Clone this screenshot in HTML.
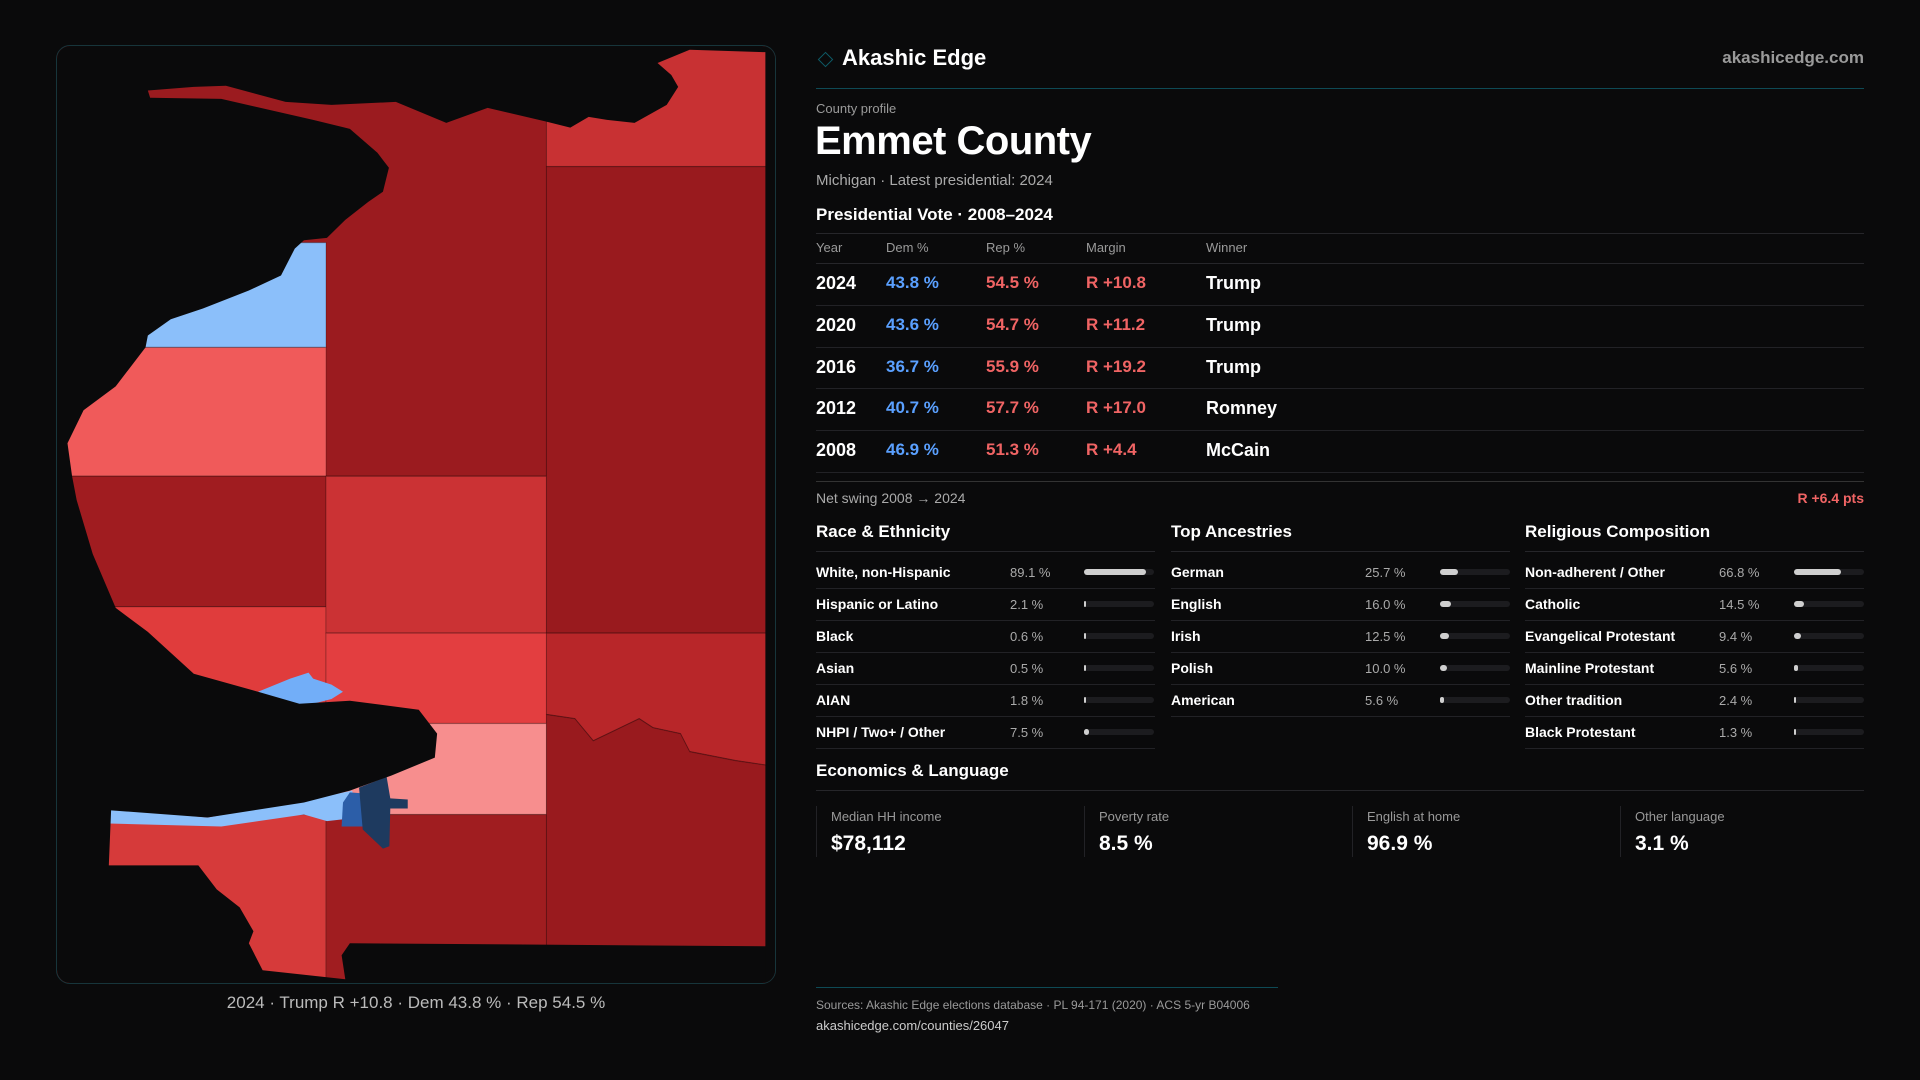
<!DOCTYPE html>
<html><head><meta charset="utf-8">
<style>
*{margin:0;padding:0;box-sizing:border-box}
body{width:1920px;height:1080px;background:#0a0a0b;font-family:"Liberation Sans",sans-serif;color:#fff;position:relative;overflow:hidden}
.a{position:absolute;white-space:nowrap}
.g{color:#9a9a9a}
.line{position:absolute;height:1px;background:#26262a}
</style></head><body>
<div class="a" style="left:56px;top:45px;width:720px;height:939px;border:1px solid #17353b;border-radius:14px;overflow:hidden;background:#0a0a0b">
<svg width="720" height="939" viewBox="0 0 1568 1568" preserveAspectRatio="none" style="position:absolute;left:-1px;top:-1px">
<g stroke="rgba(0,0,0,0.25)" stroke-width="2">
<rect x="0" y="0" width="1068" height="720" fill="#9b1b1f"/>
<rect x="0" y="330" width="588" height="175" fill="#8bbffa"/>
<rect x="0" y="505" width="588" height="215" fill="#f05a5a"/>
<rect x="0" y="720" width="588" height="218" fill="#a01c20"/>
<rect x="0" y="938" width="588" height="347" fill="#e03c3c"/>
<rect x="0" y="1285" width="588" height="283" fill="#d63a3a"/>
<rect x="588" y="720" width="480" height="262" fill="#cb3234"/>
<rect x="588" y="982" width="480" height="151" fill="#e33e40"/>
<rect x="588" y="1133" width="480" height="152" fill="#f78e8e"/>
<rect x="588" y="1285" width="480" height="283" fill="#a01d20"/>
<rect x="1068" y="0" width="500" height="203" fill="#c83133"/>
<rect x="1068" y="203" width="500" height="779" fill="#991a1e"/>
<polygon points="1068,982 1568,982 1568,1205 1480,1195 1380,1180 1360,1150 1300,1140 1270,1125 1170,1162 1130,1125 1068,1118" fill="#b82629"/>
<polygon points="1068,1118 1130,1125 1170,1162 1270,1125 1300,1140 1360,1150 1380,1180 1480,1195 1568,1205 1568,1568 1068,1568" fill="#991a1e"/>
</g>
<polygon points="440,1080 510,1058 550,1048 560,1058 600,1068 625,1080 600,1092 560,1100 520,1105" fill="#72aef8"/>
<polygon points="115,1275 330,1290 540,1262 645,1245 660,1290 590,1296 540,1285 360,1305 115,1300" fill="#8bbffa"/>
<polygon points="640,1248 675,1250 672,1305 622,1305 625,1265" fill="#2c5ea8"/>
<polygon points="660,1240 720,1222 728,1258 766,1260 766,1275 728,1275 726,1338 712,1342 668,1310" fill="#1e3a5f"/>
<path fill="#0a0a0b" d="M0,0 L1568,0 L1568,12 L1540,12 L1380,8 L1310,30 L1340,50 L1355,70 L1330,100 L1260,130 L1200,125 L1160,120 L1120,138 L1068,128 L940,105 L850,130 L740,95 L600,100 L500,95 L370,68 L300,70 L200,76 L205,88 L360,90 L560,125 L640,140 L700,180 L725,205 L712,245 L680,262 L630,292 L590,322 L540,326 L520,340 L490,385 L420,410 L320,440 L250,458 L200,485 L195,505 L130,570 L60,610 L25,665 L35,720 L45,760 L80,850 L130,940 L200,980 L300,1050 L440,1080 L530,1100 L580,1115 L530,1100 L640,1095 L790,1110 L830,1150 L825,1190 L730,1220 L640,1245 L540,1265 L330,1290 L120,1278 L115,1370 L310,1370 L350,1410 L400,1440 L430,1480 L420,1500 L450,1545 L630,1560 L622,1520 L640,1500 L1545,1505 L1545,0 L1568,0 L1568,1568 L0,1568 Z"/>
<rect x="1545" y="0" width="30" height="1568" fill="#0a0a0b"/>
</svg>
</div>
<div class="a" style="left:56px;width:720px;top:993px;text-align:center;font-size:17px;color:#bbb">2024 · Trump R +10.8 · Dem 43.8 % · Rep 54.5 %</div>

<div class="a" style="left:820px;top:54px;width:11px;height:11px;border:1.5px solid #0e5a66;transform:rotate(45deg)"></div>
<div class="a" style="left:842px;top:45px;font-size:22px;font-weight:bold">Akashic Edge</div>
<div class="a" style="right:56px;top:48px;font-size:17px;font-weight:bold;color:#9a9a9a">akashicedge.com</div>
<div class="a" style="left:816px;top:88px;width:1048px;height:1px;background:#0e4a55"></div>
<div class="a g" style="left:816px;top:101px;font-size:13px">County profile</div>
<div class="a" style="left:815px;top:119px;font-size:40px;font-weight:bold;letter-spacing:-0.5px">Emmet County</div>
<div class="a g" style="left:816px;top:172px;font-size:15px;color:#aaa">Michigan · Latest presidential: 2024</div>
<div class="a" style="left:816px;top:205px;font-size:17px;font-weight:bold">Presidential Vote · 2008–2024</div>
<div class="line" style="left:816px;top:233px;width:1048px"></div>
<div class="a g" style="left:816px;top:240px;font-size:13px">Year</div>
<div class="a g" style="left:886px;top:240px;font-size:13px">Dem %</div>
<div class="a g" style="left:986px;top:240px;font-size:13px">Rep %</div>
<div class="a g" style="left:1086px;top:240px;font-size:13px">Margin</div>
<div class="a g" style="left:1206px;top:240px;font-size:13px">Winner</div>
<div class="line" style="left:816px;top:263px;width:1048px"></div>
<div id="vote-rows"></div>
<div class="line" style="left:816px;top:481px;width:1048px;background:#333"></div>
<div class="a g" style="left:816px;top:490px;font-size:14px;color:#aaa">Net swing 2008 → 2024</div>
<div class="a" style="right:56px;top:490px;font-size:14px;font-weight:bold;color:#f06464">R +6.4 pts</div>
<div id="demo"></div>
<div class="a" style="left:816px;top:761px;font-size:17px;font-weight:bold">Economics &amp; Language</div>
<div class="line" style="left:816px;top:790px;width:1048px"></div>
<div id="stats"></div>
<div class="a" style="left:816px;top:987px;width:462px;height:1px;background:#0e4a55"></div>
<div class="a g" style="left:816px;top:998px;font-size:12px">Sources: Akashic Edge elections database · PL 94-171 (2020) · ACS 5-yr B04006</div>
<div class="a" style="left:816px;top:1018px;font-size:13px;color:#ccc">akashicedge.com/counties/26047</div>
<script>
const years=[2024,2020,2016,2012,2008];
const demPct=[43.8,43.6,36.7,40.7,46.9];
const repPct=[54.5,54.7,55.9,57.7,51.3];
const margins=["R +10.8","R +11.2","R +19.2","R +17.0","R +4.4"];
const winners=["Trump","Trump","Trump","Romney","McCain"];
const raceLabels=["White, non-Hispanic","Hispanic or Latino","Black","Asian","AIAN","NHPI / Two+ / Other"];
const raceValues=[89.1,2.1,0.6,0.5,1.8,7.5];
const ancLabels=["German","English","Irish","Polish","American"];
const ancValues=[25.7,16.0,12.5,10.0,5.6];
const relLabels=["Non-adherent / Other","Catholic","Evangelical Protestant","Mainline Protestant","Other tradition","Black Protestant"];
const relValues=[66.8,14.5,9.4,5.6,2.4,1.3];
const statLabels=["Median HH income","Poverty rate","English at home","Other language"];
const statValues=["$78,112","8.5 %","96.9 %","3.1 %"];

function div(parent,style,text){const d=document.createElement('div');d.className='a';d.style.cssText=style;if(text!==undefined)d.textContent=text;parent.appendChild(d);return d;}
const vr=document.getElementById('vote-rows');
years.forEach((y,i)=>{
  const top=263+i*41.8;const ty=top+10;
  let e;
  e=div(vr,`left:816px;top:${ty}px;font-size:18px;font-weight:bold`,String(y));
  
  
  e=div(vr,`left:886px;top:${ty}px;font-size:17px;font-weight:bold;color:#5aa0ff`,demPct[i].toFixed(1)+' %');
  
  
  e=div(vr,`left:986px;top:${ty}px;font-size:17px;font-weight:bold;color:#f06464`,repPct[i].toFixed(1)+' %');
  
  
  e=div(vr,`left:1086px;top:${ty}px;font-size:17px;font-weight:bold;color:#f06464`,margins[i]);
  
  
  e=div(vr,`left:1206px;top:${ty}px;font-size:18px;font-weight:bold`,winners[i]);
  
  
  e=div(vr,`left:816px;top:${top+41.8}px;width:1048px;height:1px;background:#222226`);
  
  
});
const demo=document.getElementById('demo');
const panels=[["Race & Ethnicity",raceLabels,raceValues,816,1010,1084],["Top Ancestries",ancLabels,ancValues,1171,1365,1440],["Religious Composition",relLabels,relValues,1525,1719,1794]];
const barW=70;
function xScale(v){return v/100*barW;}
panels.forEach(p=>{
  let e=div(demo,`left:${p[3]}px;top:522px;font-size:17px;font-weight:bold`,p[0]);
  
  
  e=div(demo,`left:${p[3]}px;top:551px;width:339px;height:1px;background:#26262a`);
  
  
  p[1].forEach((lab,i)=>{
    const cy=572+i*31.9;
    e=div(demo,`left:${p[3]}px;top:${cy-8}px;font-size:14px;font-weight:bold`,lab);
    
    
    e=div(demo,`left:${p[4]}px;top:${cy-7}px;font-size:13px;color:#aaa`,p[2][i].toFixed(1)+' %');
    
    
    e=div(demo,`left:${p[5]}px;top:${cy-3}px;width:${barW}px;height:6px;border-radius:3px;background:#1c1c1f`);
    
    
    e=div(demo,`left:${p[5]}px;top:${cy-3}px;width:${Math.max(1.5,xScale(p[2][i]))}px;height:6px;border-radius:3px;background:#cfcfcf`);
    
    
    e=div(demo,`left:${p[3]}px;top:${cy+16}px;width:339px;height:1px;background:#222226`);
    
    
  });
});
const st=document.getElementById('stats');
statLabels.forEach((l,i)=>{
  const x=816+i*268;
  let e=div(st,`left:${x}px;top:806px;width:1px;height:51px;background:#222226`);
  
  
  e=div(st,`left:${x+15}px;top:809px;font-size:13px;color:#999`,l);
  
  
  e=div(st,`left:${x+15}px;top:832px;font-size:21px;font-weight:bold`,statValues[i]);
  
  
});
</script>
</body></html>
